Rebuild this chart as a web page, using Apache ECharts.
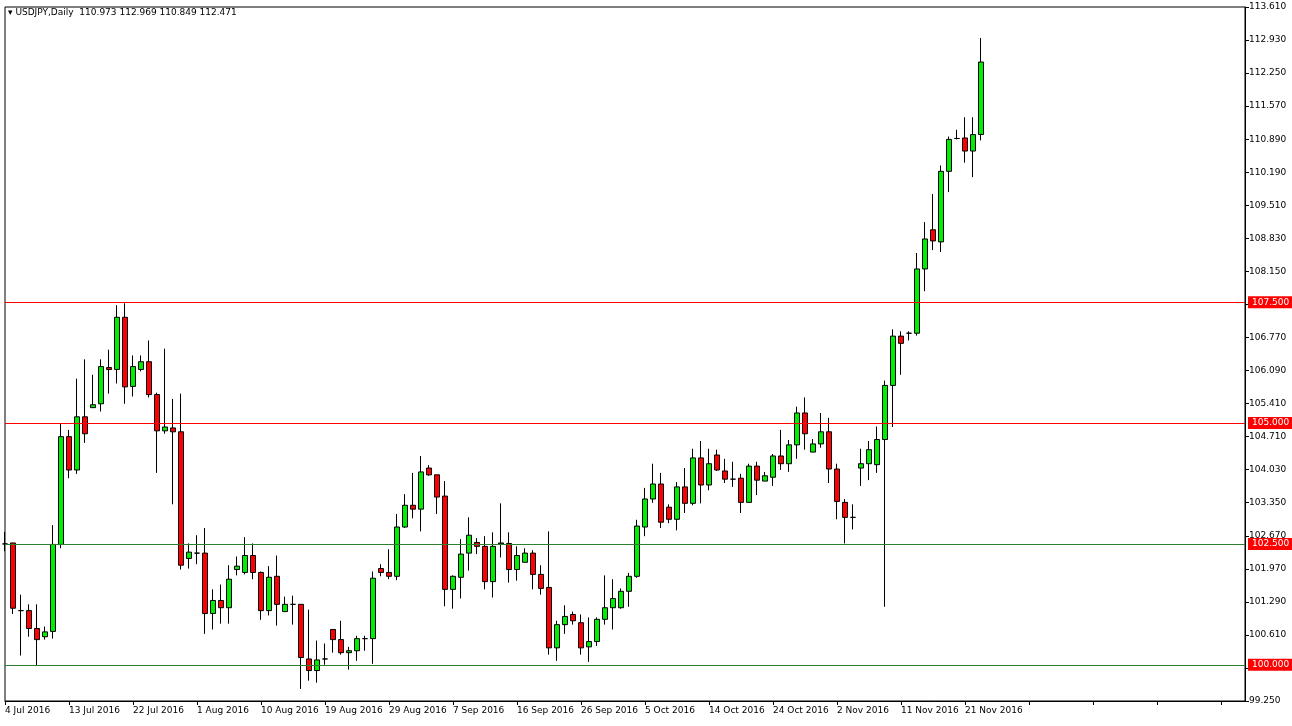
<!DOCTYPE html>
<html>
<head>
<meta charset="utf-8">
<script src="https://cdn.jsdelivr.net/npm/echarts@6/dist/echarts.min.js"></script>
<style>
  html, body { margin: 0; padding: 0; background: #fff; }
  #chart { width: 1292px; height: 726px; }
</style>
</head>
<body>
<div id="chart"></div>
<script>
// daily bars (one bar per 8px, Sunday bars included)
var opens = [102.50,102.52,101.12,101.12,100.75,100.58,100.69,102.49,104.72,104.03,
  105.13,105.32,105.40,106.15,106.11,107.19,105.76,106.11,106.27,105.59,
  104.84,104.90,104.82,102.20,102.31,102.31,101.06,101.33,101.18,101.97,
  101.91,102.26,101.91,101.12,101.83,101.10,101.25,101.25,100.12,99.88,
  100.12,100.73,100.52,100.25,100.29,100.54,100.54,101.99,101.91,101.83,
  102.85,103.30,103.22,104.07,103.93,103.49,101.56,101.81,102.31,102.53,
  102.45,101.72,102.50,102.51,101.97,102.12,102.31,101.87,101.60,100.35,
  100.83,101.04,100.87,100.37,100.48,100.94,101.18,101.18,101.52,101.83,
  102.85,103.43,103.74,103.26,103.01,103.68,103.34,104.28,103.72,104.34,
  104.01,103.84,103.86,103.36,104.11,103.80,103.88,104.32,104.16,104.55,
  105.21,104.40,104.57,104.82,104.05,103.36,103.05,104.07,104.16,104.14,
  104.66,105.78,106.80,106.86,106.86,108.19,109.00,108.75,110.21,110.89,
  110.90,110.63,110.973];
var closes = [102.50,101.17,101.12,100.75,100.52,100.68,102.49,104.72,104.03,105.13,
  104.78,105.38,106.17,106.11,107.19,105.75,106.17,106.27,105.59,104.84,
  104.92,104.82,102.06,102.33,102.31,101.06,101.33,101.18,101.77,102.04,
  102.26,101.91,101.12,101.81,101.25,101.25,101.25,100.15,99.88,100.10,
  100.12,100.52,100.25,100.29,100.54,100.54,101.79,101.91,101.83,102.85,
  103.30,103.22,103.99,103.93,103.47,101.56,101.83,102.29,102.68,102.45,
  101.72,102.45,102.52,101.97,102.26,102.31,101.87,101.58,100.35,100.83,
  101.00,100.91,100.35,100.48,100.94,101.18,101.37,101.52,101.83,102.87,
  103.43,103.74,102.95,103.01,103.68,103.34,104.28,103.72,104.16,104.03,
  103.84,103.84,103.36,104.11,103.82,103.91,104.32,104.16,104.55,105.21,
  104.78,104.57,104.82,104.05,103.38,103.05,103.05,104.16,104.45,104.66,
  105.78,106.80,106.65,106.86,108.19,108.81,108.77,110.21,110.87,110.89,
  110.63,110.97,112.471];
var lows = [102.35,101.05,100.19,100.58,99.98,100.52,100.54,102.41,103.86,103.95,
  104.59,105.32,105.24,105.61,105.82,105.40,105.55,106.07,105.53,103.97,
  104.78,103.32,101.97,101.99,102.08,100.64,100.73,100.85,100.85,101.85,
  101.87,101.77,100.93,101.02,100.81,101.10,100.83,99.50,99.67,99.63,
  100.00,100.25,100.21,99.90,100.08,100.29,100.02,101.83,101.77,101.75,
  102.83,103.03,102.76,103.91,103.12,101.21,101.16,101.37,101.95,102.29,
  101.56,101.39,102.22,101.70,101.74,102.12,101.56,101.45,100.21,100.08,
  100.64,100.83,100.21,100.06,100.39,100.83,100.73,101.16,101.20,101.80,
  102.66,103.35,102.83,102.93,102.78,103.14,103.30,103.34,103.61,104.01,
  103.76,103.68,103.14,103.36,103.51,103.80,103.70,104.03,103.99,104.26,
  104.45,104.40,104.49,103.76,103.01,102.51,102.80,103.70,103.82,103.97,
  101.20,104.92,106.00,106.71,106.81,107.73,108.58,108.54,109.78,110.87,
  110.39,110.09,110.849];
var highs = [102.75,102.52,101.45,101.25,101.25,100.79,102.89,104.99,104.86,105.92,
  106.32,106.00,106.32,106.52,107.44,107.48,106.40,106.40,106.71,105.63,
  106.54,105.50,105.61,102.51,102.68,102.83,101.56,101.66,102.06,102.24,
  102.64,102.51,101.93,102.04,102.26,101.41,101.43,101.25,101.14,100.50,
  100.44,100.73,100.91,100.37,100.60,100.60,101.93,102.08,102.39,103.12,
  103.53,103.97,104.32,104.13,103.93,103.80,101.85,102.60,103.05,102.62,
  102.66,102.74,103.34,102.74,102.45,102.41,102.37,102.06,102.76,100.91,
  101.23,101.10,101.04,100.98,100.98,101.85,101.77,101.58,101.90,103.00,
  103.66,104.16,103.97,103.32,103.78,104.07,104.47,104.63,104.47,104.45,
  104.26,104.20,103.95,104.16,104.20,103.99,104.36,104.86,104.65,105.34,
  105.53,104.67,105.21,105.11,104.16,103.43,103.32,104.47,104.63,104.93,
  105.88,106.94,106.90,106.90,108.52,109.16,109.74,110.33,110.93,111.07,
  111.33,111.33,112.969];

// one date label every 8 bars
var dateLabels = ['4 Jul 2016','13 Jul 2016','22 Jul 2016','1 Aug 2016','10 Aug 2016',
  '19 Aug 2016','29 Aug 2016','7 Sep 2016','16 Sep 2016','26 Sep 2016','5 Oct 2016',
  '14 Oct 2016','24 Oct 2016','2 Nov 2016','11 Nov 2016','21 Nov 2016'];
var priceTicks = ['99.250','99.930','100.610','101.290','101.970','102.670','103.350',
  '104.030','104.710','105.410','106.090','106.770','107.470','108.150','108.830',
  '109.510','110.190','110.890','111.570','112.250','112.930','113.610'];
var redLevels = [107.5, 105.0];
var greenLevels = [102.5, 100.0];
var lastPrice = 112.471;

var slots = 156;   // empty space to the right of the last bar
var categories = [];
for (var i = 0; i < slots; i++) categories.push(i);
var candles = opens.map(function (o, i) {
  return [o, closes[i], lows[i], highs[i]];
});

var yMin = 99.25, yMax = 113.61;
var yStep = (yMax - yMin) / (priceTicks.length - 1);

function levelLine(v, lineColor) {
  return {
    yAxis: v,
    lineStyle: { color: lineColor, width: 1, type: 'solid' },
    label: {
      show: true, position: 'end', distance: 3,
      formatter: v.toFixed(3),
      color: '#fff', backgroundColor: '#ff0000',
      fontFamily: 'DejaVu Sans', fontSize: 9, padding: [2, 4, 1, 4]
    }
  };
}

var markData = redLevels.map(function (v) { return levelLine(v, '#ff0000'); })
  .concat(greenLevels.map(function (v) { return levelLine(v, '#2f7d2f'); }));
var last = levelLine(lastPrice, '#000');
last.lineStyle.opacity = 0;
last.label.backgroundColor = '#000';
markData.push(last);

var chart = echarts.init(document.getElementById('chart'));
chart.setOption({
  animation: false,
  backgroundColor: '#fff',
  grid: { left: 5, right: 47, top: 7, bottom: 25, show: true, borderColor: '#000', borderWidth: 1 },
  graphic: [{
    type: 'text', left: 8, top: 8,
    style: {
      text: '\u25BE USDJPY,Daily  110.973 112.969 110.849 112.471',
      font: '9px "DejaVu Sans"', fill: '#000'
    }
  }],
  xAxis: {
    type: 'category',
    data: categories,
    boundaryGap: false,
    axisLine: { lineStyle: { color: '#000' } },
    axisTick: {
      show: true, interval: function (i) { return i % 8 === 0; },
      length: 4, lineStyle: { color: '#000' }
    },
    axisLabel: {
      interval: function (i) { return i % 8 === 0 && dateLabels[i / 8] !== undefined; },
      formatter: function (v, i) { return dateLabels[i / 8] || ''; },
      align: 'left', margin: 5,
      fontFamily: 'DejaVu Sans', fontSize: 9, color: '#000'
    },
    splitLine: { show: false }
  },
  yAxis: {
    type: 'value',
    position: 'right',
    min: yMin, max: yMax, interval: yStep,
    axisLine: { show: true, lineStyle: { color: '#000' } },
    axisTick: { show: true, length: 4, inside: false, lineStyle: { color: '#000' } },
    axisLabel: {
      margin: 4,
      formatter: function (v) { return priceTicks[Math.round((v - yMin) / yStep)] || ''; },
      fontFamily: 'DejaVu Sans', fontSize: 9, color: '#000'
    },
    splitLine: { show: false }
  },
  series: [{
    type: 'candlestick',
    data: candles,
    barWidth: 5,
    itemStyle: {
      color: '#00ee00', color0: '#ff0000',
      borderColor: '#000', borderColor0: '#000', borderColorDoji: '#000',
      borderWidth: 1
    },
    markLine: {
      symbol: 'none', silent: true, animation: false,
      data: markData
    }
  }]
});
</script>
</body>
</html>
